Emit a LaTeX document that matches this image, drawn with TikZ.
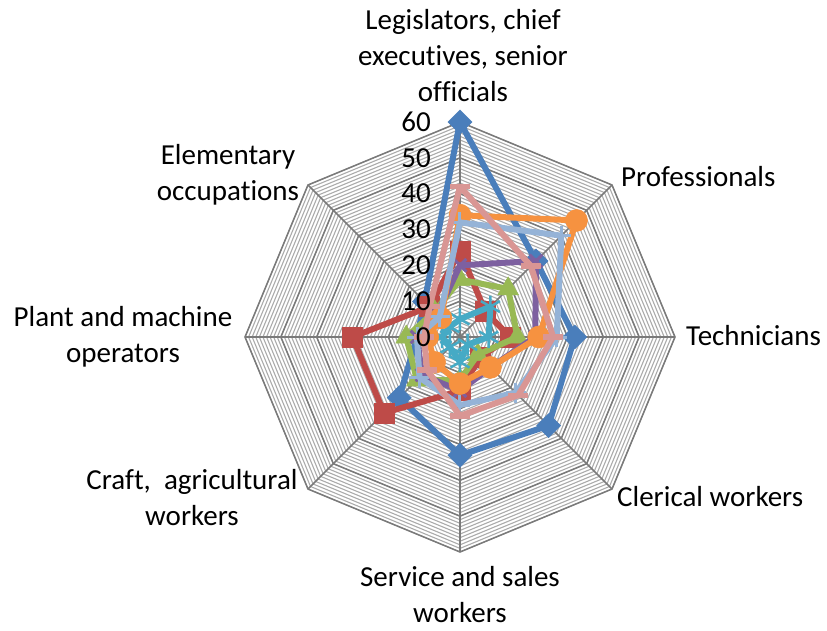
\documentclass[tikz,border=0pt]{standalone}
\usepackage{fontspec}
\setmainfont{Carlito}[RawFeature={-liga;-clig;-calt}]
\usetikzlibrary{plotmarks}
\definecolor{cBlue}{HTML}{4A7EBB}
\definecolor{cRed}{HTML}{BE4B48}
\definecolor{cGreen}{HTML}{98B954}
\definecolor{cPurple}{HTML}{7D60A0}
\definecolor{cTeal}{HTML}{46AAC5}
\definecolor{cOrange}{HTML}{F69240}
\definecolor{cLBlue}{HTML}{95B3D7}
\definecolor{cPink}{HTML}{D99694}
\newcommand{\rs}{3.583}
\begin{document}
\begin{tikzpicture}[x=1pt,y=1pt,
  every node/.style={font=\fontsize{29}{36}\selectfont,inner sep=0pt},
  gridminor/.style={draw=black!33,line width=1.1pt},
  gridmajor/.style={draw=black!52,line width=1.5pt},
  serline/.style={line width=6pt,line join=round},
  mkdiamond/.style={mark=square*,mark size=8.5pt,mark options={rotate=45,line width=0.5pt}},
  mksquare/.style={mark=square*,mark size=10pt,mark options={line width=0.5pt}},
  mktriangle/.style={mark=triangle*,mark size=12pt,mark options={line width=0.5pt}},
  mkcross/.style={mark=x,mark size=9pt,mark options={line width=3pt}},
  mkstar/.style={mark=asterisk,mark size=11pt,mark options={line width=2.5pt}},
  mkcircle/.style={mark=*,mark size=11pt,mark options={line width=0.5pt}},
  mkplus/.style={mark=+,mark size=10pt,mark options={line width=3pt}},
  mkdash/.style={mark=-,mark size=10pt,mark options={line width=5.5pt}}]
\useasboundingbox (-460,-293) rectangle (367,337);
% grid
\foreach \v in {1,...,60}
  \draw[gridminor] (90:\v*\rs) \foreach \a in {45,0,...,-225}{-- (\a:\v*\rs)} -- cycle;
\foreach \v in {10,20,...,60}
  \draw[gridmajor] (90:\v*\rs) \foreach \a in {45,0,...,-225}{-- (\a:\v*\rs)} -- cycle;
\foreach \a in {90,45,...,-225}
  \draw[gridmajor] (0,0) -- (\a:60*\rs);
% series
\foreach \n/\c/\m/\vals in {
  b/cBlue/diamond/{60,30,32,35,33,24,12,14},
  r/cRed/square/{24,10,14,8,15,30,30,12},
  g/cGreen/triangle/{16,19,16,7,12,17,15,10},
  p/cPurple/cross/{20,30,21,12,15,15,12,9},
  t/cTeal/star/{5,12,8,3,7,4,5,4},
  o/cOrange/circle/{34,46,22,12,13,10,9,7.5},
  l/cLBlue/plus/{32,40,27,22,19,16,12,8},
  k/cPink/dash/{42,28,26,23,22,13,10,12}} {
  \foreach \v [count=\k from 0] in \vals
    \coordinate (\n\k) at ({90-45*\k}:\v*\rs);
  \draw[serline,\c] (\n0) \foreach \k in {1,...,7}{-- (\n\k)} -- cycle;
  \foreach \k in {0,...,7}
    \draw[\c,mk\m] plot[only marks] coordinates {(\n\k)};
}
% axis values
\foreach \v in {0,10,...,60}
  \node[anchor=east] (tick\v) at (-29,\v*\rs) {\v};
% categories
\node[align=center] (legis) at (3,281) {Legislators, chief\\executives, senior\\officials};
\node[anchor=west] (prof) at (161,160) {Professionals};
\node[anchor=west] (tech) at (226,1) {Technicians};
\node[anchor=west] (cler) at (157,-160) {Clerical workers};
\node[align=center] (serv) at (0,-258) {Service and sales\\workers};
\node[align=center] (craft) at (-268,-161) {Craft,\ \ agricultural\\workers};
\node[align=center] (plant) at (-337,0) {Plant and machine\\operators};
\node[align=center] (elem) at (-232,162) {Elementary\\occupations};
\end{tikzpicture}
\end{document}
